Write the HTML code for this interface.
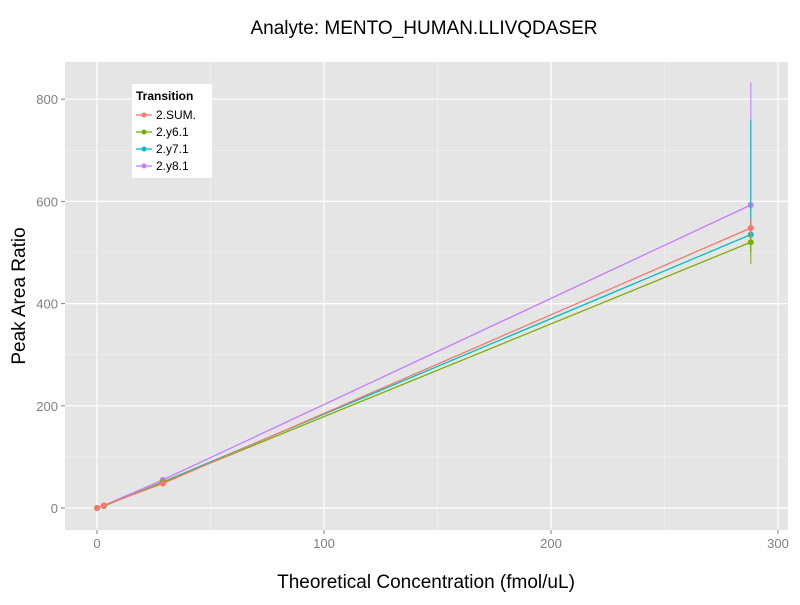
<!DOCTYPE html>
<html><head><meta charset="utf-8"><style>
body{margin:0;background:#fff;font-family:"Liberation Sans",sans-serif}
</style></head><body>
<svg id="c" width="800" height="600" xmlns="http://www.w3.org/2000/svg"></svg>
<script>
const xVals=[0,3,29,288];
const seriesNames=["2.SUM.","2.y6.1","2.y7.1","2.y8.1"];
const seriesColors=["#F8766D","#7CAE00","#00BFC4","#C77CFF"];
const sumVals=[0,5,48,548];
const y6Vals=[0,4,50,520];
const y7Vals=[0,4,51,535];
const y8Vals=[0,5,55,593];
const errLow=[530,478,500,560];
const errHigh=[565,560,760,833];
const xTicks=[0,100,200,300];
const yTicks=[0,200,400,600,800];
const allVals=[sumVals,y6Vals,y7Vals,y8Vals];
const svg=document.getElementById('c');
const NS="http://www.w3.org/2000/svg";
const X=v=>97+v*2.27, Y=v=>508-v*0.511;
function mk(t,a,name,p){const e=document.createElementNS(NS,t);for(const k in a)e.setAttribute(k,a[k]);


(p||svg).appendChild(e);return e;}
mk('rect',{x:65,y:62,width:723,height:468,fill:'#E5E5E5'},'plot-panel');
[50,150,250].forEach(v=>mk('line',{x1:X(v),x2:X(v),y1:62,y2:530,stroke:'#F2F2F2','stroke-width':0.6},'minor-gridline'));
[100,300,500,700].forEach(v=>mk('line',{x1:65,x2:788,y1:Y(v),y2:Y(v),stroke:'#F2F2F2','stroke-width':0.6},'minor-gridline'));
xTicks.forEach(v=>{mk('line',{x1:X(v),x2:X(v),y1:62,y2:530,stroke:'#fff','stroke-width':1.2},'x-gridline');
mk('line',{x1:X(v),x2:X(v),y1:530,y2:534,stroke:'#7F7F7F'},'x-tick');
const t=mk('text',{x:X(v),y:548,'text-anchor':'middle','font-size':13,fill:'#7F7F7F'},'x-tick-label');t.textContent=v;});
yTicks.forEach(v=>{mk('line',{x1:65,x2:788,y1:Y(v),y2:Y(v),stroke:'#fff','stroke-width':1.2},'y-gridline');
mk('line',{x1:61,x2:65,y1:Y(v),y2:Y(v),stroke:'#7F7F7F'},'y-tick');
const t=mk('text',{x:58,y:Y(v)+5,'text-anchor':'end','font-size':13,fill:'#7F7F7F'},'y-tick-label');t.textContent=v;});
for(let i=allVals.length-1;i>=0;i--){const vals=allVals[i];
 mk('polyline',{points:vals.map((v,j)=>X(xVals[j])+','+Y(v)).join(' '),fill:'none',stroke:seriesColors[i],'stroke-width':1.3},'series-line-'+seriesNames[i]);
 mk('line',{x1:X(288),x2:X(288),y1:Y(errLow[i]),y2:Y(errHigh[i]),stroke:seriesColors[i],'stroke-width':1.3,'stroke-opacity':0.8},'error-bar');
 vals.forEach((v,j)=>mk('circle',{cx:X(xVals[j]),cy:Y(v),r:3,fill:seriesColors[i]},'data-point'));
}
let t=mk('text',{x:424,y:34,'text-anchor':'middle','font-size':19,fill:'#000'},'chart-title');t.textContent="Analyte: MENTO_HUMAN.LLIVQDASER";
t=mk('text',{x:426,y:588,'text-anchor':'middle','font-size':19,fill:'#000'},'x-axis-title');t.textContent="Theoretical Concentration (fmol/uL)";
t=mk('text',{x:25,y:296,'text-anchor':'middle','font-size':19,fill:'#000',transform:'rotate(-90 25 296)'},'y-axis-title');t.textContent="Peak Area Ratio";
mk('rect',{x:132,y:84,width:80,height:94,fill:'#fff'},'legend');
t=mk('text',{x:136,y:100,'font-size':12,'font-weight':'bold'},'legend-title');t.textContent="Transition";
seriesNames.forEach((n,i)=>{const y=115+i*17;
mk('line',{x1:136,x2:152,y1:y,y2:y,stroke:seriesColors[i],'stroke-width':1.3},'legend-key');
mk('circle',{cx:144,cy:y,r:2.5,fill:seriesColors[i]},'legend-key-point');
const tt=mk('text',{x:156,y:y+4,'font-size':12},'legend-entry');tt.textContent=n;});
</script>
</body></html>
